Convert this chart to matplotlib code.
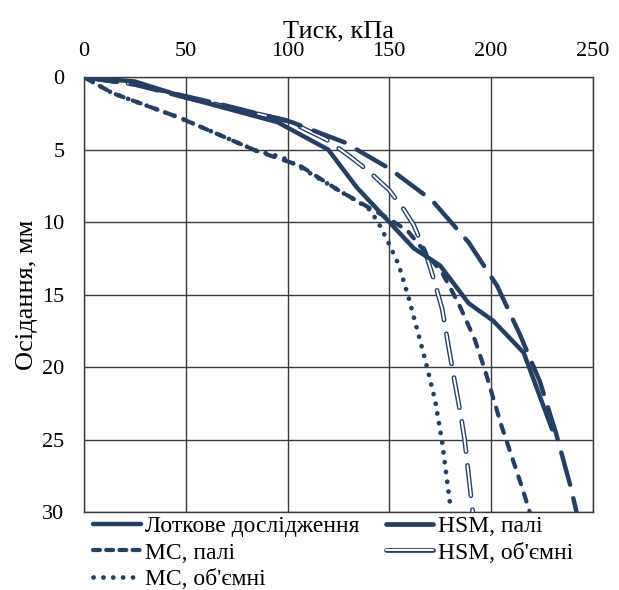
import matplotlib
matplotlib.use('Agg')
from matplotlib import pyplot as plt
from matplotlib.lines import Line2D
import matplotlib.patheffects as pe

plt.rcParams['font.family'] = ['Liberation Serif', 'DejaVu Serif']
plt.rcParams['lines.scale_dashes'] = False

# Лоткове дослідження
test_p = [0, 25, 50, 95, 120, 134, 150, 162, 175, 189, 201, 216, 230]
test_s = [0, 0.3, 1.4, 3.1, 5.0, 7.6, 10.0, 11.8, 13.0, 15.6, 16.8, 19.0, 24.3]

# HSM, палі
hsm_pile_p = [0, 25, 68, 102, 128, 150, 171, 189, 203, 214, 224, 232, 239, 242]
hsm_pile_s = [0, 0.5, 1.9, 3.1, 4.5, 6.3, 8.5, 11.4, 14.4, 17.7, 21.0, 24.6, 28.2, 30.0]

# МС, палі
mc_pile_p = [0, 14, 47, 85, 106, 125, 140, 149, 159, 176, 184, 192, 197, 205, 215, 219]
mc_pile_s = [0, 1.1, 2.8, 5.1, 6.1, 7.8, 9.0, 9.7, 10.6, 13.5, 15.6, 18.1, 20.2, 24.0, 28.2, 30.0]

# HSM, об'ємні
hsm_vol_p = [0, 25, 50, 100, 119, 130, 140, 150, 157, 162, 168, 172, 176, 179, 182, 185, 187, 189, 191]
hsm_vol_s = [0, 0.5, 1.4, 3.0, 4.3, 5.4, 6.5, 7.8, 9.1, 10.2, 12.2, 14.0, 16.0, 18.5, 20.9, 23.2, 25.0, 27.5, 30.0]

# МС, об'ємні
mc_vol_p = [0, 14, 47, 85, 97, 106, 125, 139.5, 144.5, 149.5, 154.5, 159.5, 165, 168, 172.5, 176, 180]
mc_vol_s = [0, 1.1, 2.8, 5.1, 5.5, 6.2, 7.8, 9.0, 10.0, 11.4, 12.9, 15.2, 18.1, 19.7, 22.3, 25.2, 29.6]

labels = ['Лоткове дослідження', 'МС, палі', "МС, об'ємні", 'HSM, палі', "HSM, об'ємні"]

col = '#243f66'
double = [pe.Stroke(linewidth=3.4, foreground=col), pe.Normal()]

fig = plt.figure(figsize=(6.19, 5.9), dpi=100)
ax = fig.add_axes([0.1357, 0.1322, 0.822, 0.737])

ax.plot(test_p, test_s, color=col, lw=3.2, solid_capstyle='round',
        solid_joinstyle='round', zorder=5)
ax.plot(hsm_pile_p, hsm_pile_s, color=col, lw=3.2, dashes=(24, 10),
        dash_capstyle='round', zorder=4)
ax.plot(mc_pile_p, mc_pile_s, color=col, lw=3.0, dashes=(6, 7),
        dash_capstyle='round', zorder=4)
ax.plot(hsm_vol_p, hsm_vol_s, color='white', lw=1.4, dashes=(22, 10),
        dash_capstyle='round', zorder=3, path_effects=double)
ax.plot(mc_vol_p, mc_vol_s, color=col, lw=3.4, dashes=(0.1, 7),
        dash_capstyle='round', zorder=3)

ax.set_xlim(0, 250)
ax.set_ylim(30, 0)
ax.set_xticks([0, 50, 100, 150, 200, 250])
ax.set_yticks([0, 5, 10, 15, 20, 25, 30])
ax.xaxis.tick_top()
ax.xaxis.set_label_position('top')
ax.tick_params(length=0, labelsize=16)
ax.tick_params(axis='x', pad=12)
ax.tick_params(axis='y', pad=14)
ax.set_xlabel('Тиск, кПа', fontsize=19, labelpad=3)
ax.set_ylabel('Осідання, мм', fontsize=19, labelpad=3)
ax.grid(True, color='#3a3a3a', lw=1.0)
for s in ax.spines.values():
    s.set_color('#3a3a3a')
    s.set_linewidth(1.0)

# proxy handles for the legend
h_test = Line2D([], [], color=col, lw=3.2, solid_capstyle='round')
h_mc = Line2D([], [], color=col, lw=3.0, dashes=(5, 4.5), dash_capstyle='round')
h_mv = Line2D([], [], color=col, lw=3.4, dashes=(0.1, 7), dash_capstyle='round')
h_hsm = Line2D([], [], color=col, lw=3.4, solid_capstyle='round')
h_hv = Line2D([], [], color='white', lw=1.4, solid_capstyle='round',
              path_effects=double)

ax.legend([h_test, h_mc, h_mv, h_hsm, h_hv], labels, ncol=2,
          loc='upper left', bbox_to_anchor=(0.0, 0.014),
          frameon=False, fontsize=17, handlelength=2.0, handletextpad=0.2,
          columnspacing=1.1, labelspacing=0.22, borderaxespad=0)

fig.savefig('out.png', dpi=100)
